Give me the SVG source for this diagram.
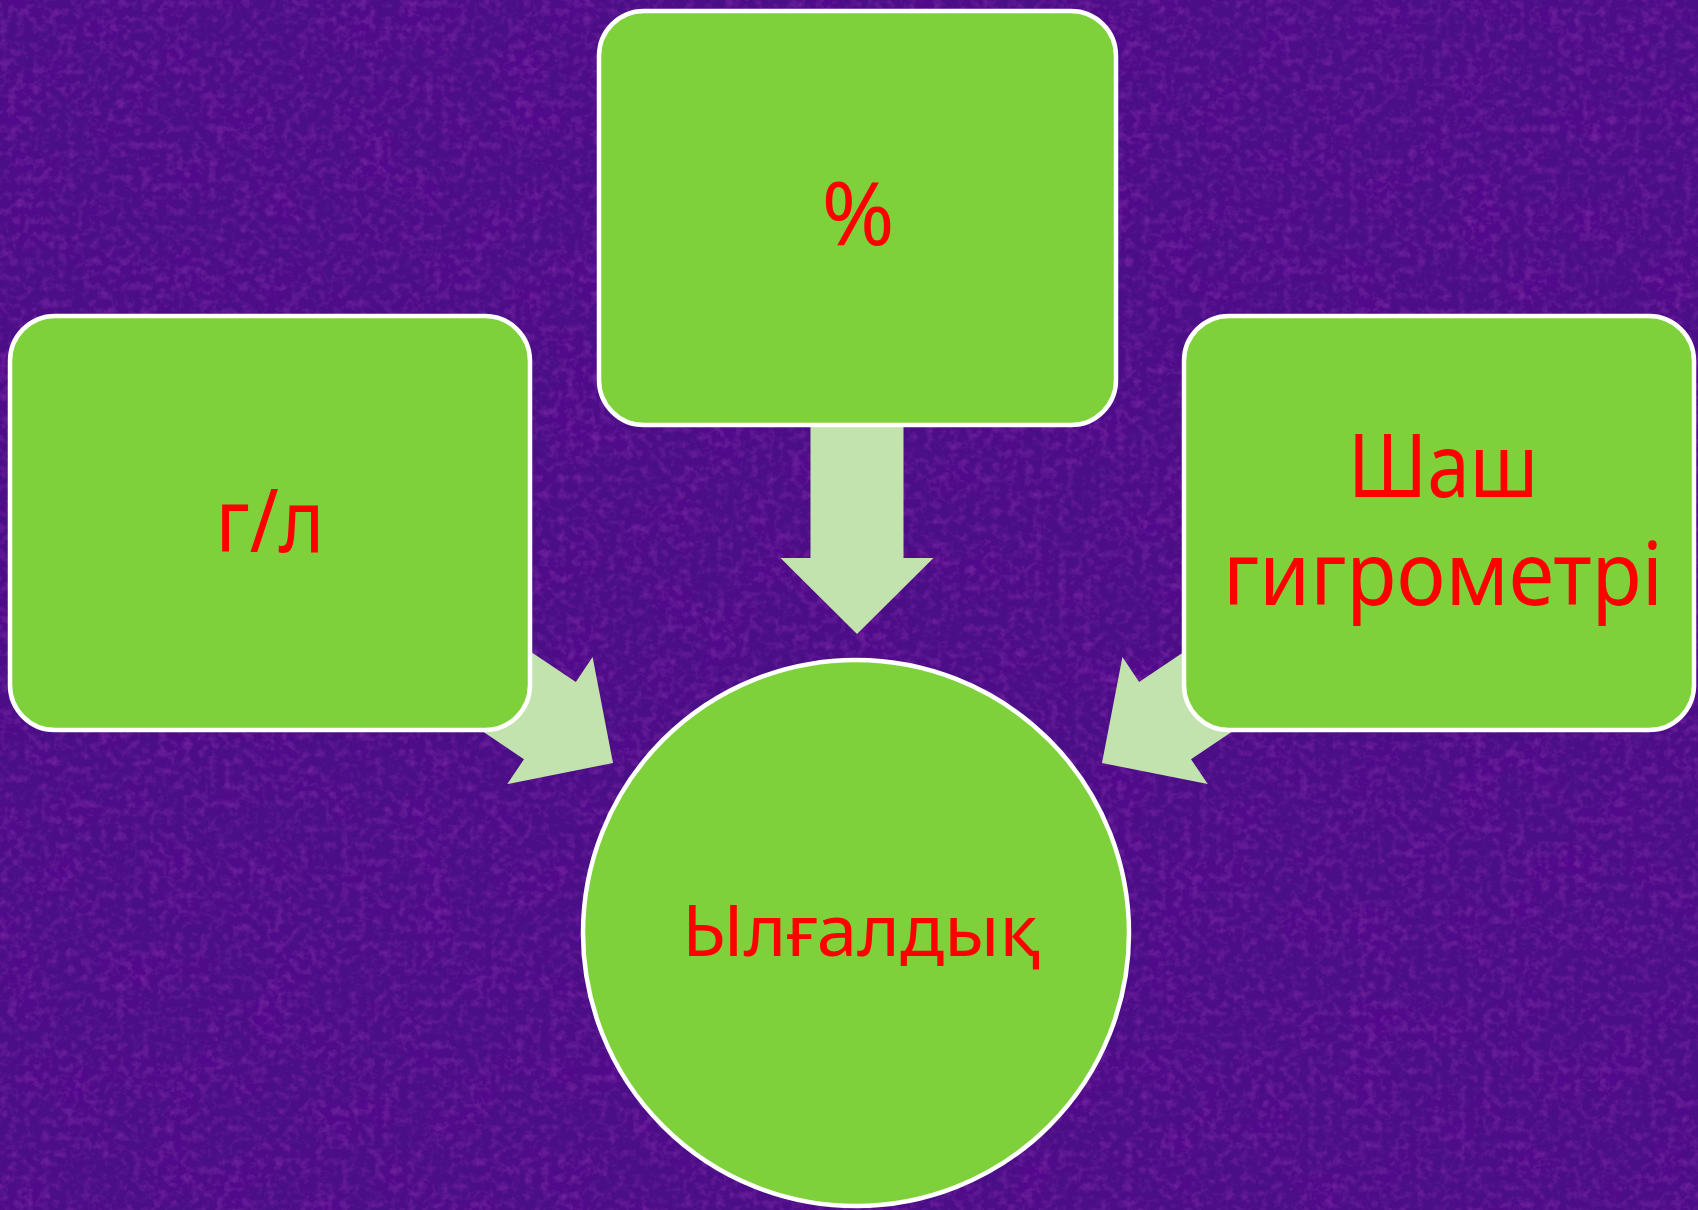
<svg xmlns="http://www.w3.org/2000/svg" width="1698" height="1210" viewBox="0 0 1698 1210">
  <style>
    .box { fill: #7fd13b; stroke: #ffffff; stroke-width: 4.5; }
    .arrow { fill: #c3e3ae; }
    .lbl { font-family: "Noto Sans", "Open Sans", "DejaVu Sans", sans-serif; fill: #ff0000; text-anchor: middle; }
    .big { font-size: 88px; }
    .mid { font-size: 72px; }
  </style>
  <defs>
    <filter id="tex" x="0" y="0" width="100%" height="100%">
      <feTurbulence type="fractalNoise" baseFrequency="0.02" numOctaves="4" seed="7" result="n"/>
      <feColorMatrix in="n" type="matrix" values="0 0 0 0 0.12  0 0 0 0 0.0  0 0 0 0 0.3  1.8 0 0 0 -0.75" result="dark"/>
      <feTurbulence type="fractalNoise" baseFrequency="0.12" numOctaves="3" seed="3" result="n2"/>
      <feColorMatrix in="n2" type="matrix" values="0 0 0 0 0.45  0 0 0 0 0.05  0 0 0 0 0.6  0 1.2 0 0 -0.55" result="light"/>
      <feMerge>
        <feMergeNode in="dark"/>
        <feMergeNode in="light"/>
      </feMerge>
    </filter>
    <polygon id="arr" points="0,0 -76,-76.5 -76,-46.5 -232,-46.5 -232,46.5 -76,46.5 -76,76.5"/>
  </defs>

  <g id="background">
    <rect x="0" y="0" width="1698" height="1210" fill="#4a0f86"/>
    <rect x="0" y="0" width="1698" height="1210" filter="url(#tex)" opacity="0.6"/>
  </g>

  <g id="connectors" class="arrow">
    <use href="#arr" transform="translate(857,634) rotate(90)"/>
    <use href="#arr" transform="translate(613,763) rotate(33.9)"/>
    <use href="#arr" transform="translate(1102,763) rotate(146.1)"/>
  </g>

  <g id="node-percent">
    <rect class="box" x="599" y="11" width="517" height="414" rx="45" ry="45"/>
    <text class="lbl" x="858" y="245" font-size="88">%</text>
  </g>

  <g id="node-gl">
    <rect class="box" x="10" y="316" width="520" height="414" rx="45" ry="45"/>
    <text class="lbl big" x="270" y="552" textLength="109" lengthAdjust="spacingAndGlyphs">г/л</text>
  </g>

  <g id="node-hygrometer">
    <rect class="box" x="1184" y="316" width="510" height="414" rx="45" ry="45"/>
    <text class="lbl big" x="1443" y="497" textLength="190" lengthAdjust="spacingAndGlyphs">Шаш</text>
    <text class="lbl big" x="1443" y="605" textLength="440" lengthAdjust="spacingAndGlyphs">гигрометрі</text>
  </g>

  <g id="node-humidity">
    <circle class="box" cx="856" cy="933" r="273"/>
    <text class="lbl mid" x="861" y="956" textLength="358" lengthAdjust="spacingAndGlyphs">Ылғалдық</text>
  </g>
</svg>
